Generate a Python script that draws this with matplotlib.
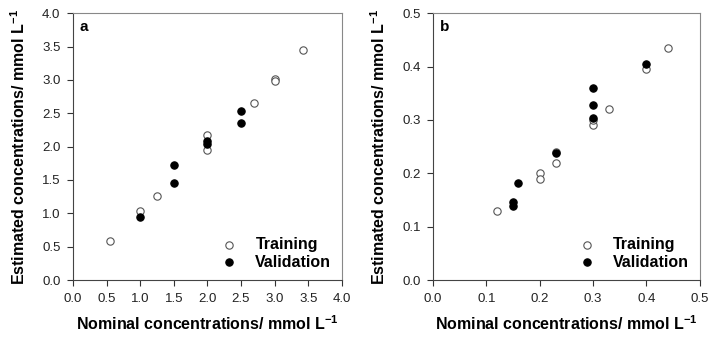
import numpy as np
import matplotlib
matplotlib.use("Agg")
import matplotlib.pyplot as plt

plt.rcParams['font.family'] = ['Liberation Sans', 'DejaVu Sans']
plt.rcParams['mathtext.fontset'] = 'custom'
plt.rcParams['mathtext.rm'] = 'Liberation Sans:bold'
plt.rcParams['mathtext.bf'] = 'Liberation Sans:bold'
plt.rcParams['mathtext.default'] = 'bf'

# panel a data
a_train_x = [0.55, 1.0, 1.25, 2.0, 2.0, 2.7, 3.0, 3.0, 3.42]
a_train_y = [0.59, 1.03, 1.26, 2.18, 1.95, 2.66, 3.01, 2.99, 3.45]
a_valid_x = [1.0, 1.5, 1.5, 2.0, 2.0, 2.5, 2.5]
a_valid_y = [0.95, 1.72, 1.46, 2.09, 2.04, 2.53, 2.35]

# panel b data
b_train_x = [0.12, 0.2, 0.2, 0.23, 0.23, 0.3, 0.3, 0.33, 0.4, 0.44]
b_train_y = [0.13, 0.20, 0.19, 0.22, 0.24, 0.29, 0.30, 0.32, 0.396, 0.434]
b_valid_x = [0.15, 0.15, 0.16, 0.23, 0.3, 0.3, 0.3, 0.4]
b_valid_y = [0.146, 0.139, 0.182, 0.238, 0.359, 0.327, 0.303, 0.405]

a_ticks = np.arange(0, 4.01, 0.5)
b_ticks = np.arange(0, 0.51, 0.1)

fig = plt.figure(figsize=(7.15, 3.37), dpi=100)
ax1 = fig.add_axes([0.102, 0.169, 0.376, 0.792])
ax2 = fig.add_axes([0.6056, 0.169, 0.373, 0.792])

xlabel = r"Nominal concentrations/ mmol L$^{\mathbf{-1}}$"
ylabel = r"Estimated concentrations/ mmol L$^{\mathbf{-1}}$"

for ax, tx, ty, vx, vy, ticks, lim, tag in [
        (ax1, a_train_x, a_train_y, a_valid_x, a_valid_y, a_ticks, 4.0, 'a'),
        (ax2, b_train_x, b_train_y, b_valid_x, b_valid_y, b_ticks, 0.5, 'b')]:
    ax.scatter(tx, ty, s=28, facecolors='white', edgecolors='#555555',
               linewidths=0.8, label='Training', zorder=3)
    ax.scatter(vx, vy, s=28, facecolors='black', edgecolors='black',
               linewidths=0.8, label='Validation', zorder=4)
    ax.set_xlim(0, lim)
    ax.set_ylim(0, lim)
    ax.set_xticks(ticks)
    ax.set_yticks(ticks)
    ax.set_xticklabels([f"{t:.1f}" for t in ticks])
    ax.set_yticklabels([f"{t:.1f}" for t in ticks])
    ax.tick_params(direction='out', length=4, width=0.8, labelsize=9.5,
                   colors='#333333', labelcolor='#222222', pad=5)
    for side in ['top', 'right']:
        ax.spines[side].set_color('#888888')
        ax.spines[side].set_linewidth(0.8)
    for side in ['left', 'bottom']:
        ax.spines[side].set_color('#444444')
        ax.spines[side].set_linewidth(0.8)
    ax.set_xlabel(xlabel, fontsize=11.5, fontweight='bold', labelpad=7)
    ax.set_ylabel(ylabel, fontsize=11.5, fontweight='bold', labelpad=10)
    ax.text(0.025, 0.975, tag, transform=ax.transAxes, fontsize=11,
            fontweight='bold', va='top', ha='left')
    ax.legend(loc='lower right', frameon=False, prop={'weight': 'bold', 'size': 11.5},
              handletextpad=0.9, borderaxespad=0.25, labelspacing=0.15,
              handlelength=1.5)

fig.savefig("out.png", dpi=100)
